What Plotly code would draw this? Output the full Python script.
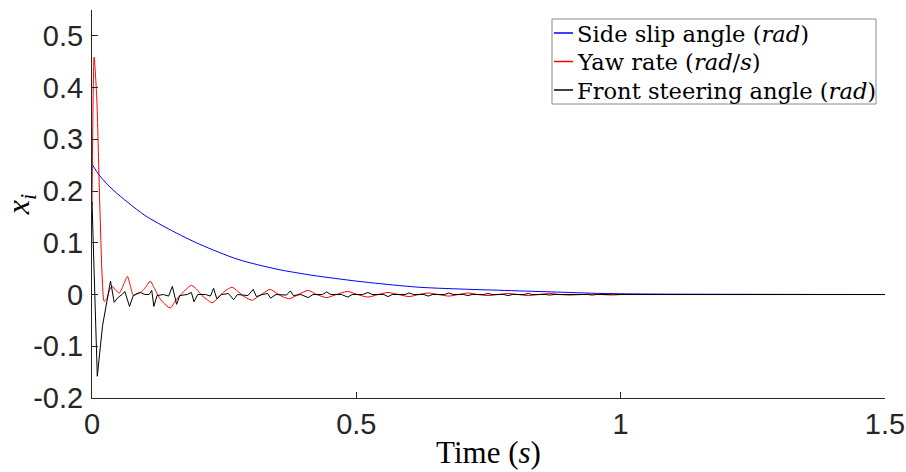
import plotly.graph_objects as go

# Side slip angle (rad)
t_beta = [0, 0.015, 0.04, 0.068, 0.1, 0.15, 0.204, 0.276, 0.35, 0.418, 0.5, 0.545,
          0.62, 0.715, 0.747, 0.84, 0.872, 0.967, 1.05, 1.2, 1.35, 1.5]
beta = [0.252, 0.229, 0.202, 0.178, 0.153, 0.124, 0.097, 0.068, 0.049, 0.037, 0.026, 0.021,
        0.014, 0.010, 0.009, 0.006, 0.005, 0.002, 0.001, 0.0005, 0.0002, 0.0001]

# Yaw rate (rad/s)
t_r = [0, 0.004, 0.009, 0.014, 0.019, 0.023, 0.028, 0.033, 0.038, 0.045, 0.052, 0.060,
       0.067, 0.073, 0.078, 0.085, 0.092, 0.100, 0.110, 0.118, 0.126, 0.135, 0.148, 0.158,
       0.168, 0.178, 0.188, 0.198, 0.208, 0.218, 0.227, 0.237, 0.247, 0.256, 0.265, 0.275,
       0.285, 0.295, 0.303, 0.313, 0.323, 0.337, 0.350, 0.362, 0.374, 0.390, 0.409, 0.425,
       0.444, 0.462, 0.484, 0.502, 0.522, 0.541, 0.560, 0.580, 0.600, 0.618, 0.636, 0.655,
       0.675, 0.693, 0.711, 0.730, 0.749, 0.768, 0.787, 0.806, 0.825, 0.845, 0.866, 0.885,
       0.904, 0.925, 0.946, 0.965, 0.985, 1.0, 1.1, 1.2, 1.3, 1.4, 1.5]
r = [0.171, 0.459, 0.38, 0.20, 0.04, -0.013, -0.008, 0.008, 0.016, 0.008, 0.003, 0.020,
     0.035, 0.015, -0.002, 0.001, 0.004, 0.012, 0.026, 0.012, -0.004, -0.016, -0.026, -0.012,
     0.000, 0.010, 0.018, 0.010, -0.002, -0.010, -0.016, -0.008, 0.003, 0.010, 0.014, 0.007,
     -0.002, -0.008, -0.011, -0.005, 0.002, 0.010, 0.002, -0.005, -0.008, 0.000, 0.008, 0.000,
     -0.006, 0.000, 0.006, 0.000, -0.005, 0.000, 0.004, 0.000, -0.004, 0.000, 0.003, 0.000,
     -0.003, 0.000, 0.003, 0.000, -0.002, 0.000, 0.002, 0.000, -0.002, 0.000, 0.002, 0.000,
     -0.001, 0.000, 0.001, 0.000, -0.001, 0.0, 0.0, 0.0, 0.0, 0.0, 0.0]

# Front steering angle (rad)
t_delta = [0, 0.010, 0.020, 0.030, 0.035, 0.042, 0.050, 0.057, 0.062, 0.071, 0.078, 0.085,
           0.092, 0.100, 0.108, 0.113, 0.117, 0.123, 0.135, 0.145, 0.152, 0.160, 0.166, 0.180,
           0.188, 0.193, 0.200, 0.215, 0.224, 0.230, 0.236, 0.245, 0.258, 0.268, 0.275, 0.295,
           0.305, 0.311, 0.322, 0.332, 0.338, 0.348, 0.368, 0.375, 0.381, 0.395, 0.409, 0.418,
           0.436, 0.444, 0.452, 0.472, 0.484, 0.492, 0.512, 0.522, 0.530, 0.552, 0.560, 0.568,
           0.592, 0.600, 0.608, 0.628, 0.636, 0.644, 0.667, 0.675, 0.683, 0.703, 0.711, 0.719,
           0.741, 0.749, 0.757, 0.779, 0.787, 0.795, 0.817, 0.825, 0.833, 0.858, 0.866, 0.874,
           0.896, 0.904, 0.912, 0.938, 0.946, 0.954, 0.977, 0.985, 0.993, 1.1, 1.3, 1.5]
delta = [0.18, -0.158, -0.06, 0.000, 0.026, -0.015, -0.005, 0.000, 0.006, -0.023, -0.002, 0.002,
         0.004, 0.000, 0.000, 0.008, -0.023, -0.002, 0.000, -0.003, 0.016, -0.019, -0.002, 0.000,
         0.004, -0.014, 0.000, 0.000, -0.003, 0.012, -0.008, 0.000, 0.002, -0.010, 0.000, -0.002,
         0.010, -0.004, 0.000, 0.002, -0.007, 0.000, -0.001, 0.007, -0.002, 0.000, -0.006, 0.000,
         0.000, 0.005, 0.000, 0.000, -0.005, 0.000, 0.000, 0.004, 0.000, 0.000, -0.004, 0.000,
         0.000, 0.003, 0.000, 0.000, -0.003, 0.000, 0.000, 0.003, 0.000, 0.000, -0.002, 0.000,
         0.000, 0.002, 0.000, 0.000, -0.002, 0.000, 0.000, 0.002, 0.000, 0.000, -0.001, 0.000,
         0.000, 0.001, 0.000, 0.000, -0.001, 0.000, 0.000, 0.001, 0.000, 0.0, 0.0, 0.0]

series_names = ["Side slip angle (<i>rad</i>)", "Yaw rate (<i>rad</i>/<i>s</i>)",
                "Front steering angle (<i>rad</i>)"]
series_colors = ["#0000ff", "#ff0000", "#000000"]

x_tick_vals = [0, 0.5, 1, 1.5]
x_tick_text = ["0", "0.5", "1", "1.5"]
y_tick_vals = [-0.2, -0.1, 0, 0.1, 0.2, 0.3, 0.4, 0.5]
y_tick_text = ["-0.2", "-0.1", "0", "0.1", "0.2", "0.3", "0.4", "0.5"]

W, H = 906, 472
ML, MR, MT, MB = 92, 21, 10, 74
PW, PH = W - ML - MR, H - MT - MB


def px_x(px):
    """Pixel column -> paper x."""
    return (px - ML) / PW


def px_y(py):
    """Pixel row -> paper y."""
    return 1 - (py - MT) / PH


fig = go.Figure()
fig.add_trace(go.Scatter(x=t_beta, y=beta, mode="lines", name=series_names[0],
                         line=dict(color=series_colors[0], width=1, shape="spline", smoothing=0.8)))
fig.add_trace(go.Scatter(x=t_r, y=r, mode="lines", name=series_names[1],
                         line=dict(color=series_colors[1], width=1, shape="spline", smoothing=0.6)))
fig.add_trace(go.Scatter(x=t_delta, y=delta, mode="lines", name=series_names[2],
                         line=dict(color=series_colors[2], width=1)))

serif = "Liberation Serif, Times New Roman, serif"
legend_serif = "DejaVu Serif, serif"
axis_color = "#262626"
tick_font = dict(family="Liberation Sans, Arial, sans-serif", size=29, color=axis_color)

# Legend box in the upper right corner, with compact rows
box_l, box_r, box_t, box_b = 552, 876, 19, 104
row_y = [33, 61.5, 90]
shapes = [dict(type="rect", xref="paper", yref="paper",
               x0=px_x(box_l), x1=px_x(box_r), y0=px_y(box_b), y1=px_y(box_t),
               line=dict(color="#8a8a8a", width=1), fillcolor="white", layer="above")]
annotations = []
for name, color, yy in zip(series_names, series_colors, row_y):
    shapes.append(dict(type="line", xref="paper", yref="paper",
                       x0=px_x(554), x1=px_x(573), y0=px_y(yy), y1=px_y(yy),
                       line=dict(color=color, width=1.5), layer="above"))
    annotations.append(dict(text=name, xref="paper", yref="paper", x=px_x(575), y=px_y(yy + 0.5),
                            xanchor="left", yanchor="middle", showarrow=False,
                            font=dict(family=legend_serif, size=22.6, color="black")))

fig.update_layout(
    width=W, height=H,
    margin=dict(l=ML, r=MR, t=MT, b=MB, autoexpand=False),
    paper_bgcolor="white", plot_bgcolor="white",
    showlegend=False,
    shapes=shapes,
    annotations=annotations,
    xaxis=dict(
        range=[0, 1.5], tickmode="array", tickvals=x_tick_vals, ticktext=x_tick_text,
        ticks="inside", ticklen=6, tickcolor=axis_color, tickwidth=1,
        showline=True, linecolor=axis_color, linewidth=1, mirror=False, automargin=False,
        showgrid=False, zeroline=False, tickfont=tick_font,
        title=dict(text="Time (<i>s</i>)", font=dict(family=serif, size=31, color="black"), standoff=2),
    ),
    yaxis=dict(
        range=[-0.2, 0.55], tickmode="array", tickvals=y_tick_vals, ticktext=y_tick_text,
        ticks="inside", ticklen=6, tickcolor=axis_color, tickwidth=1,
        showline=True, linecolor=axis_color, linewidth=1, mirror=False, automargin=False,
        showgrid=False, zeroline=False, tickfont=tick_font, ticklabelstandoff=2,
        title=dict(text="<i>x<sub>i</sub></i>", font=dict(family=serif, size=32, color="black"), standoff=0),
    ),
)

fig.write_html("out.html")
